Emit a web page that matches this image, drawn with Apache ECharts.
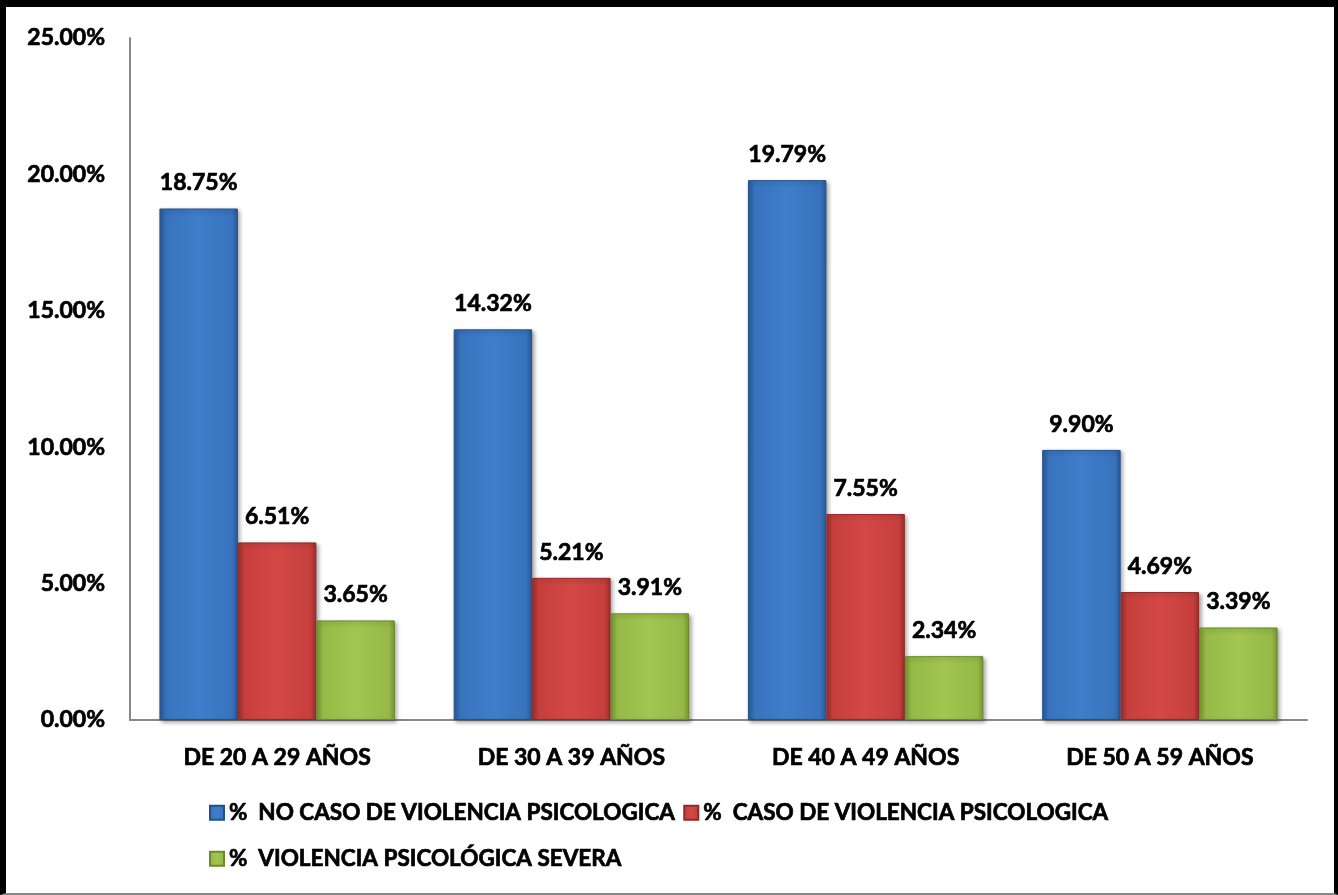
<!DOCTYPE html>
<html>
<head>
<meta charset="utf-8">
<script src="https://cdn.jsdelivr.net/npm/echarts@6/dist/echarts.min.js"></script>
<style>
  html, body { margin: 0; padding: 0; background: #fff; }
  #main {
    width: 1338px; height: 895px; box-sizing: border-box;
    border-left: 6px solid #000; border-top: 7px solid #000;
    border-right: 4px solid #000; border-bottom: 2px solid #888;
  }
</style>
</head>
<body>
<div id="main"></div>
<script type="text/javascript">
    // datos del grafico
    var categories = ['DE 20 A 29 AÑOS', 'DE 30 A 39 AÑOS', 'DE 40 A 49 AÑOS', 'DE 50 A 59 AÑOS'];
    var seriesNames = [
        '%  NO CASO DE VIOLENCIA PSICOLOGICA',
        '%  CASO DE VIOLENCIA PSICOLOGICA',
        '%  VIOLENCIA PSICOLÓGICA SEVERA'
    ];
    var noCaso = [18.75, 14.32, 19.79, 9.90];
    var caso = [6.51, 5.21, 7.55, 4.69];
    var severa = [3.65, 3.91, 2.34, 3.39];
    var yTicks = [0, 5, 10, 15, 20, 25];

    var FONT = 'Lato';
    // texto negrita "gruesa" como en el original
    var boldText = function (size) {
        return {
            color: '#000',
            fontFamily: FONT,
            fontWeight: 'bold',
            fontSize: size,
            textBorderColor: '#000',
            textBorderWidth: 0.7
        };
    };

    // degradado tipo bisel
    var bevel = function (dark, mid, light) {
        return new echarts.graphic.LinearGradient(0, 0, 1, 0, [
            { offset: 0, color: dark },
            { offset: 0.08, color: mid },
            { offset: 0.5, color: light },
            { offset: 0.92, color: mid },
            { offset: 1, color: dark }
        ]);
    };
    var colors = [
        { fill: bevel('#2a5a99', '#3873bd', '#3f7ecb'), border: '#24508a' },
        { fill: bevel('#9e2f2d', '#c63f3c', '#d44846'), border: '#8e2a28' },
        { fill: bevel('#789a32', '#96b948', '#a3c650'), border: '#6b8a2a' }
    ];

    var makeSeries = function (name, values, c) {
        return {
            name: name,
            type: 'bar',
            data: values,
            barGap: '0%',
            barCategoryGap: '20%',
            itemStyle: {
                color: c.fill,
                borderColor: c.border,
                borderWidth: 1,
                shadowColor: 'rgba(0,0,0,0.35)',
                shadowBlur: 4,
                shadowOffsetX: 2,
                shadowOffsetY: 2
            },
            label: Object.assign({
                show: true,
                position: 'top',
                distance: 14,
                formatter: function (p) { return p.value.toFixed(2) + '%'; }
            }, boldText(23))
        };
    };

    var myChart = echarts.init(document.getElementById('main'));

    var legendBase = {
        left: 198,
        itemWidth: 14, itemHeight: 14, itemGap: 8,
        icon: 'rect',
        textStyle: boldText(22.5)
    };

    var option = {
        animation: false,
        backgroundColor: '#fff',
        grid: { left: 124, right: 27, top: 31, bottom: 173 },
        legend: [
            Object.assign({ data: [seriesNames[0], seriesNames[1]], top: 789 }, legendBase),
            Object.assign({ data: [seriesNames[2]], top: 835 }, legendBase)
        ],
        xAxis: {
            type: 'category',
            data: categories,
            axisLine: { lineStyle: { color: '#888', width: 2 } },
            axisTick: { show: false },
            axisLabel: Object.assign({ margin: 26 }, boldText(23))
        },
        yAxis: {
            type: 'value',
            min: yTicks[0],
            max: yTicks[yTicks.length - 1],
            interval: yTicks[1] - yTicks[0],
            axisLine: { show: true, lineStyle: { color: '#888', width: 2 } },
            axisTick: { show: false },
            splitLine: { show: false },
            axisLabel: Object.assign({
                margin: 25,
                formatter: function (v) { return v.toFixed(2) + '%'; }
            }, boldText(23))
        },
        series: [
            makeSeries(seriesNames[0], noCaso, colors[0]),
            makeSeries(seriesNames[1], caso, colors[1]),
            makeSeries(seriesNames[2], severa, colors[2])
        ]
    };
    myChart.setOption(option);
</script>
</body>
</html>
